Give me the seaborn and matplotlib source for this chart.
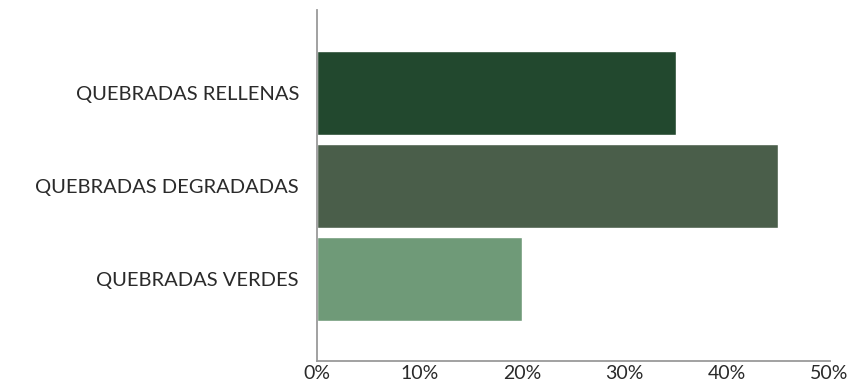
import pandas as pd
import seaborn as sns
import matplotlib.pyplot as plt
from matplotlib.ticker import FuncFormatter

categorias = ['QUEBRADAS RELLENAS', 'QUEBRADAS DEGRADADAS', 'QUEBRADAS VERDES']
porcentajes = [35, 45, 20]
colores = ['#22482e', '#4a5e4a', '#6f9a78']
ticks_x = [0, 10, 20, 30, 40, 50]

data = pd.DataFrame({'categoria': categorias, 'pct': porcentajes})

sns.set_style('white')
plt.rcParams['font.family'] = ['Lato', 'DejaVu Sans']

fig = plt.figure(figsize=(8.5, 3.89), dpi=100)
ax = fig.add_axes([0.373, 0.072, 0.603, 0.902])

sns.barplot(data=data, x='pct', y='categoria', hue='categoria', palette=colores,
            legend=False, width=0.9, saturation=1, ax=ax)

ax.set_xlim(0, 50)
ax.set_ylim(2.88, -0.89)
ax.set_xticks(ticks_x)
ax.xaxis.set_major_formatter(FuncFormatter(lambda v, p: f'{v:.0f}%'))
ax.set_xlabel('')
ax.set_ylabel('')

for s in ['top', 'right']:
    ax.spines[s].set_visible(False)
for s in ['left', 'bottom']:
    ax.spines[s].set_color('#9a9a9a')
    ax.spines[s].set_linewidth(1.3)

ax.tick_params(axis='x', direction='in', length=4, color='#9a9a9a', labelsize=14,
               labelcolor='#2a2a2a', pad=3)
ax.tick_params(axis='y', length=0, labelsize=14.5, labelcolor='#2a2a2a', pad=13)

fig.savefig('out.png', dpi=100, facecolor='white')
